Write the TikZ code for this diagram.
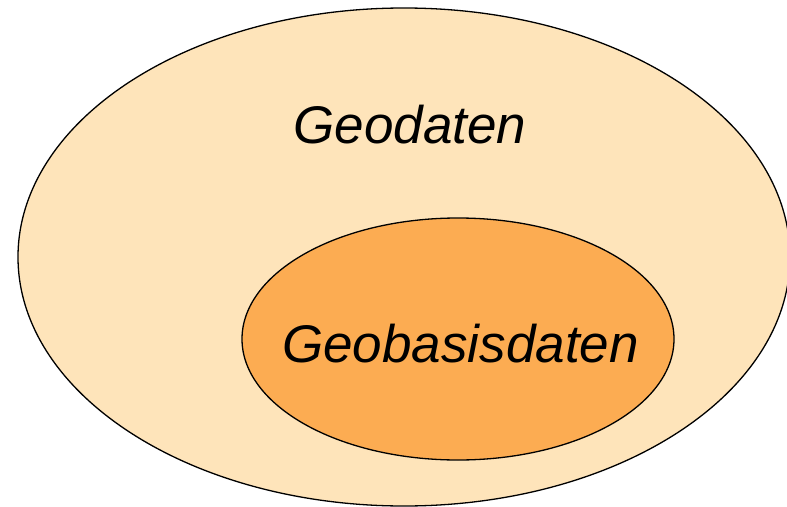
\documentclass[tikz,border=0pt]{standalone}
\usepackage{fontspec}
\setmainfont{Liberation Sans}
\usetikzlibrary{shapes.geometric}
\definecolor{outerfill}{RGB}{254,228,186}
\definecolor{innerfill}{RGB}{252,172,82}
\tikzset{
  setshape/.style={ellipse, draw=black, line width=1.3pt, inner sep=0pt},
  setlabel/.style={anchor=base, inner sep=0pt, font=\fontsize{53}{60}\selectfont\itshape}
}
\begin{document}
\begin{tikzpicture}[x=1pt,y=-1pt]
\useasboundingbox (0,0) rectangle (787,506);
\node[setshape, fill=outerfill, minimum width=772pt, minimum height=498pt] (geodaten) at (404,257) {};
\node[setshape, fill=innerfill, minimum width=432pt, minimum height=242pt] (geobasis) at (458,339) {};
\node[setlabel] (lgeo) at (410,143) {Geodaten};
\node[setlabel] (lbasis) at (460.5,362) {Geobasisdaten};
\end{tikzpicture}
\end{document}
